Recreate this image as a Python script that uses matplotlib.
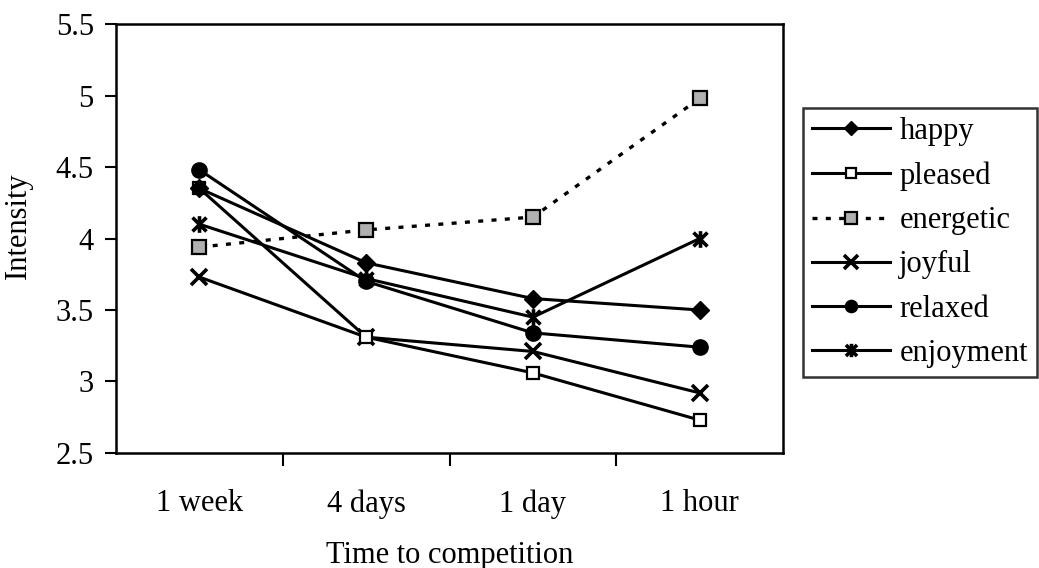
import matplotlib.pyplot as plt
from matplotlib.path import Path

plt.rcParams['font.family'] = ['Liberation Serif', 'DejaVu Serif']

# Times before the competition
times = ["1 week", "4 days", "1 day", "1 hour"]

# Mean intensity of each emotion
happy = [4.35, 3.83, 3.58, 3.50]
pleased = [4.35, 3.31, 3.06, 2.73]
energetic = [3.94, 4.06, 4.15, 4.98]
joyful = [3.73, 3.31, 3.21, 2.92]
relaxed = [4.48, 3.70, 3.34, 3.24]
enjoyment = [4.10, 3.72, 3.45, 4.00]

# asterisk marker: an X with a vertical bar through it
star = Path([(-1, -1), (1, 1), (-1, 1), (1, -1), (0, -1.2), (0, 1.2)],
            [Path.MOVETO, Path.LINETO, Path.MOVETO, Path.LINETO,
             Path.MOVETO, Path.LINETO])

fig = plt.figure(figsize=(10.39, 5.68), dpi=100)
ax = fig.add_axes([0.1117, 0.2025, 0.642, 0.7552])

fs = 22
x = range(len(times))
lw = 2.2
ax.plot(x, happy, color="black", lw=lw, marker="D", ms=9, zorder=4, label="happy")
ax.plot(x, pleased, color="black", lw=lw, marker="s", ms=9, mfc="white",
        mew=1.6, zorder=3, label="pleased")
ax.plot(x, energetic, color="black", lw=2.4, ls=(0, (1.5, 2.5)), marker="s",
        ms=10, mfc="#b0b0b0", mec="black", mew=1.6, label="energetic")
ax.plot(x, joyful, color="black", lw=lw, marker="x", ms=12, mew=2.6, label="joyful")
ax.plot(x, relaxed, color="black", lw=lw, marker="o", ms=11, label="relaxed")
ax.plot(x, enjoyment, color="black", lw=lw, marker=star, ms=12, mew=2.6,
        label="enjoyment")

ax.set_xlim(-0.5, 3.5)
ax.set_ylim(2.5, 5.5)
ax.set_yticks([2.5, 3, 3.5, 4, 4.5, 5, 5.5])
ax.set_yticklabels(["2.5", "3", "3.5", "4", "4.5", "5", "5.5"])

# category labels sit between the tick marks
ax.set_xticks([0.5, 1.5, 2.5])
ax.set_xticklabels([])
ax.set_xticks(list(x), minor=True)
ax.set_xticklabels(times, minor=True)
ax.tick_params(axis="x", which="major", direction="out", length=9, width=1.5)
ax.tick_params(axis="x", which="minor", length=0, pad=26, labelsize=fs)
ax.tick_params(axis="y", direction="out", length=8, width=1.5, labelsize=fs, pad=8)

for s in ax.spines.values():
    s.set_linewidth(1.8)

ax.set_xlabel("Time to competition", fontsize=fs, labelpad=16)
ax.set_ylabel("Intensity", fontsize=fs)
ax.yaxis.set_label_coords(-0.124, 0.53)

leg = ax.legend(loc="upper left", bbox_to_anchor=(0.7729, 0.8099),
                bbox_transform=fig.transFigure, fontsize=fs,
                frameon=True, fancybox=False, edgecolor="black",
                handlelength=2.55, handletextpad=0.3, labelspacing=0.5,
                borderpad=0.3, borderaxespad=0, markerscale=0.8)
leg.get_frame().set_linewidth(1.8)

fig.savefig("out.png", dpi=100)
